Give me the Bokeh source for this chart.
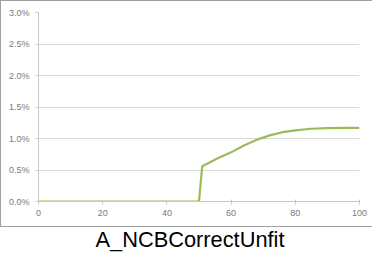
from bokeh.plotting import figure
from bokeh.models import NumeralTickFormatter, FixedTicker, Title
from bokeh.embed import file_html
from bokeh.resources import INLINE

title_text = "A_NCBCorrectUnfit"
x_vals = [0, 50, 51, 53, 56, 60, 64, 68, 72, 76, 80, 85, 90, 95, 100]
y_vals = [0.0, 0.0, 0.0056, 0.0061, 0.0069, 0.0078, 0.0089, 0.0098, 0.0105, 0.0110,
          0.0113, 0.01155, 0.01165, 0.0117, 0.0117]
x_ticks = [0, 20, 40, 60, 80, 100]
y_ticks = [0.0, 0.005, 0.010, 0.015, 0.020, 0.025, 0.030]

p = figure(frame_width=321, frame_height=189, x_range=(0, 100), y_range=(0, 0.03),
           output_backend="svg", toolbar_location=None,
           min_border_left=38, min_border_right=13, min_border_top=12, min_border_bottom=20)
p.outline_line_color = None
p.border_fill_color = None
grad = "linear-gradient(#a0a0a0, #a0a0a0)"
p.styles = {
    "background-color": "#ffffff",
    "background-image": ", ".join([grad, grad, grad]),
    "background-size": "100% 1px, 1px 227px, 100% 1px",
    "background-position": "0px 0px, 0px 0px, 0px 226px",
    "background-repeat": "no-repeat",
}

p.line(x_vals, y_vals, line_color="#9BBB59", line_width=2.2)

p.xgrid.visible = False
p.ygrid.grid_line_color = "#d9d9d9"
p.ygrid.ticker = FixedTicker(ticks=y_ticks)
p.xaxis.ticker = FixedTicker(ticks=x_ticks)
p.yaxis.ticker = FixedTicker(ticks=y_ticks)
p.yaxis.formatter = NumeralTickFormatter(format="0.0%")
for ax in (p.xaxis, p.yaxis):
    ax.axis_line_color = "#c8c8c8"
    ax.major_tick_line_color = "#c8c8c8"
    ax.minor_tick_line_color = None
    ax.major_label_text_color = "#7a7a7a"
    ax.major_label_text_font = "Liberation Sans"
    ax.major_label_text_font_size = "9px"
p.xaxis.major_tick_in = 2
p.xaxis.major_tick_out = 3
p.yaxis.major_tick_in = 0
p.yaxis.major_tick_out = 3
p.yaxis.major_label_standoff = 6
p.xaxis.major_label_standoff = 5

p.add_layout(Title(text=title_text, align="left", text_font="Liberation Sans",
                   text_font_size="21.8px", text_font_style="normal",
                   text_color="#000000", standoff=12, offset=57), "below")

open("out.html", "w").write(file_html(p, INLINE))
